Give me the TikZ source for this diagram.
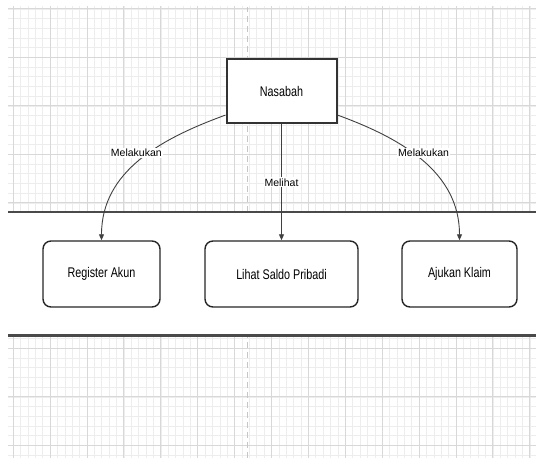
\documentclass[tikz,border=0pt]{standalone}
\usepackage{fontspec}
\setmainfont{Liberation Sans}
\newfontfamily\boxfont[FakeStretch=0.77]{Liberation Sans}
\usetikzlibrary{arrows.meta}

\definecolor{gridmajor}{HTML}{D8D8D8}
\definecolor{gridminor}{HTML}{EDEDED}
\definecolor{lanegray}{HTML}{4A4A4A}

\tikzset{
  aktor/.style={draw=black!80, line width=2pt, fill=white,
    minimum width=110pt, minimum height=64pt,
    font=\boxfont\fontsize{14}{16}\selectfont},
  proses/.style={draw=black!85, line width=1.4pt, rounded corners=8pt, fill=white,
    minimum height=66pt, font=\boxfont\fontsize{14}{16}\selectfont},
  ket/.style={fill=white, inner sep=1pt, font=\fontsize{10.5}{12}\selectfont},
  garis/.style={draw=black!75, line width=0.9pt},
  lane/.style={draw=lanegray, line width=2.6pt},
}

\begin{document}
\begin{tikzpicture}[x=1pt,y=1pt,>={Triangle[length=6pt,width=5pt]}]
\useasboundingbox (0,0) rectangle (536,458);

%grid above and below the lane
\foreach \ya/\yb in {246/451,0/122.5}
  {
  \begin{scope}
    \clip (8,\ya) rectangle (536,\yb);
    \foreach \i in {-1,...,71}
      \draw[gridminor] ({13.1+7.38*\i},0) -- ++(0,458);
    \foreach \j in {0,...,47}
      \draw[gridminor] (0,{449.2-9.7*\j}) -- ++(536,0);
    \foreach \i in {0,...,14}
      \draw[gridmajor,line width=0.8pt] ({13.1+36.9*\i},0) -- ++(0,458);
    \foreach \j in {0,...,9}
      \draw[gridmajor,line width=0.8pt] (0,{449.2-48.5*\j}) -- ++(536,0);
  \end{scope}
  \draw[gray!45,line width=1pt,dash pattern=on 6pt off 4pt] (247,\ya) -- (247,\yb);
  }

%lane borders
\draw[lane] (8,246) -- (536,246);
\draw[lane] (8,122.5) -- (536,122.5);

\node[aktor] (nasabah) at (281.5,366.7) {Nasabah};
\node[proses,minimum width=117pt] (register) at (101.5,184) {Register Akun};
\node[proses,minimum width=153pt] (saldo) at (281.5,184) {Lihat Saldo Pribadi};
\node[proses,minimum width=115pt] (klaim) at (459.5,184) {Ajukan Klaim};

\draw[garis,->] (nasabah.203) to[out=200,in=90] node[ket,pos=0.45,xshift=-10pt,yshift=2pt] {Melakukan} (register.north);
\draw[garis,->] (nasabah.south) -- node[ket,pos=0.5] {Melihat} (saldo.north);
\draw[garis,->] (nasabah.-23) to[out=-20,in=90] node[ket,pos=0.45,xshift=8pt,yshift=2pt] {Melakukan} (klaim.north);
\end{tikzpicture}
\end{document}
